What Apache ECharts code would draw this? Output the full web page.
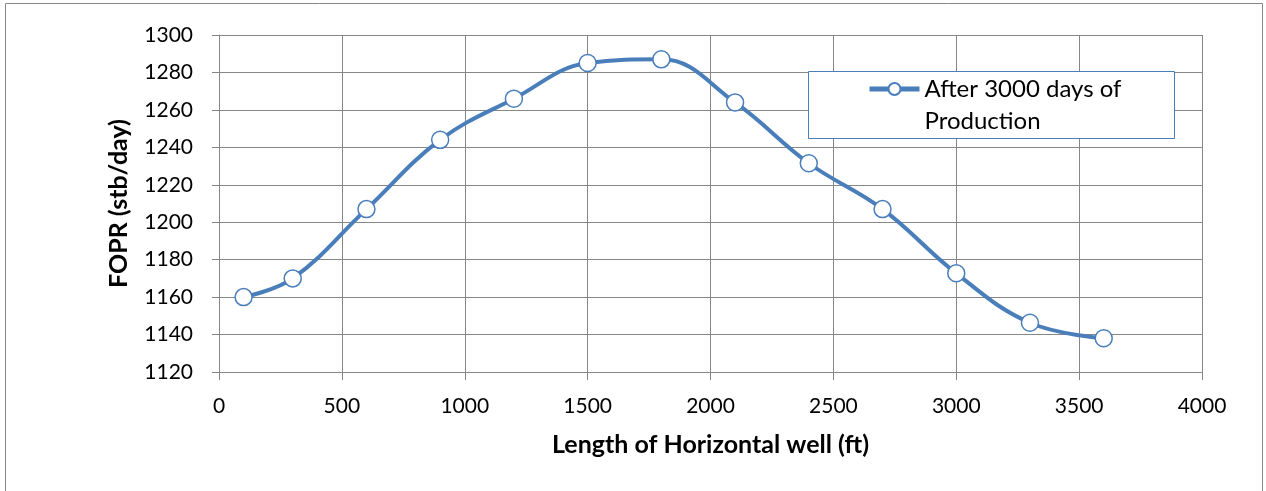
<!DOCTYPE html>
<html>
<head>
<meta charset="utf-8">
<script src="https://cdn.jsdelivr.net/npm/echarts@6/dist/echarts.min.js"></script>
<style>
html,body{margin:0;padding:0;background:#fff;}
#chart{width:1266px;height:491px;}
</style>
</head>
<body>
<div id="chart"></div>
<script>
const lengths = [100, 300, 600, 900, 1200, 1500, 1800, 2100, 2400, 2700, 3000, 3300, 3600];
const fopr = [1160, 1170, 1207, 1244, 1266, 1285, 1287, 1264, 1231.5, 1207, 1172.7, 1146.3, 1138];
const seriesName = 'After 3000 days of\nProduction';
const xTitle = 'Length of Horizontal well (ft)';
const yTitle = 'FOPR (stb/day)';

const grey = '#878787';
const blue = '#4A7EBB';
const font = 'Lato, "Open Sans", sans-serif';

const chart = echarts.init(document.getElementById('chart'), null, {renderer: 'canvas'});
chart.setOption({
  animation: false,
  backgroundColor: '#fff',
  grid: {left: 219, top: 35, right: 64, bottom: 119},
  graphic: [
    {type: 'rect', shape: {x: 5.5, y: 3.5, width: 1257, height: 500}, style: {fill: 'none', stroke: grey, lineWidth: 1}, silent: true},
    {type: 'rect', shape: {x: 808.5, y: 71.5, width: 366, height: 67}, style: {fill: '#fff', stroke: blue, lineWidth: 1}, z: 5, silent: true}
  ],
  legend: {
    left: 867,
    top: 41,
    itemWidth: 50,
    itemHeight: 15,
    padding: 0,
    z: 10,
    formatter: name => '\n' + name,
    lineStyle: {width: 5, color: blue},
    textStyle: {fontFamily: font, fontSize: 24, color: '#000', lineHeight: 32},
    data: [seriesName]
  },
  xAxis: {
    type: 'value',
    min: 0, max: 4000, interval: 500,
    name: xTitle,
    nameLocation: 'middle',
    nameGap: 60,
    nameTextStyle: {fontFamily: font, fontSize: 25, fontWeight: 'bold', color: '#000'},
    axisLine: {show: true, lineStyle: {color: grey, width: 1}},
    axisTick: {show: true, length: 8, lineStyle: {color: grey}},
    axisLabel: {fontFamily: font, fontSize: 21, color: '#000', margin: 24, formatter: v => String(v)},
    splitLine: {show: true, lineStyle: {color: grey, width: 1}}
  },
  yAxis: {
    type: 'value',
    min: 1120, max: 1300, interval: 20,
    name: yTitle,
    nameLocation: 'middle',
    nameGap: 88,
    nameRotate: 90,
    nameTextStyle: {fontFamily: font, fontSize: 25, fontWeight: 'bold', color: '#000'},
    axisLine: {show: true, lineStyle: {color: grey, width: 1}},
    axisTick: {show: true, length: 7, lineStyle: {color: grey}},
    axisLabel: {fontFamily: font, fontSize: 21, color: '#000', margin: 26, formatter: v => String(v)},
    splitLine: {show: true, lineStyle: {color: grey, width: 1}}
  },
  series: [{
    name: seriesName,
    type: 'line',
    data: lengths.map((x, i) => [x, fopr[i]]),
    smooth: 0.4,
    symbol: 'circle',
    symbolSize: 17,
    showAllSymbol: true,
    lineStyle: {color: blue, width: 4},
    itemStyle: {color: '#fff', borderColor: blue, borderWidth: 1.5},
    z: 3
  }]
});
</script>
</body>
</html>
